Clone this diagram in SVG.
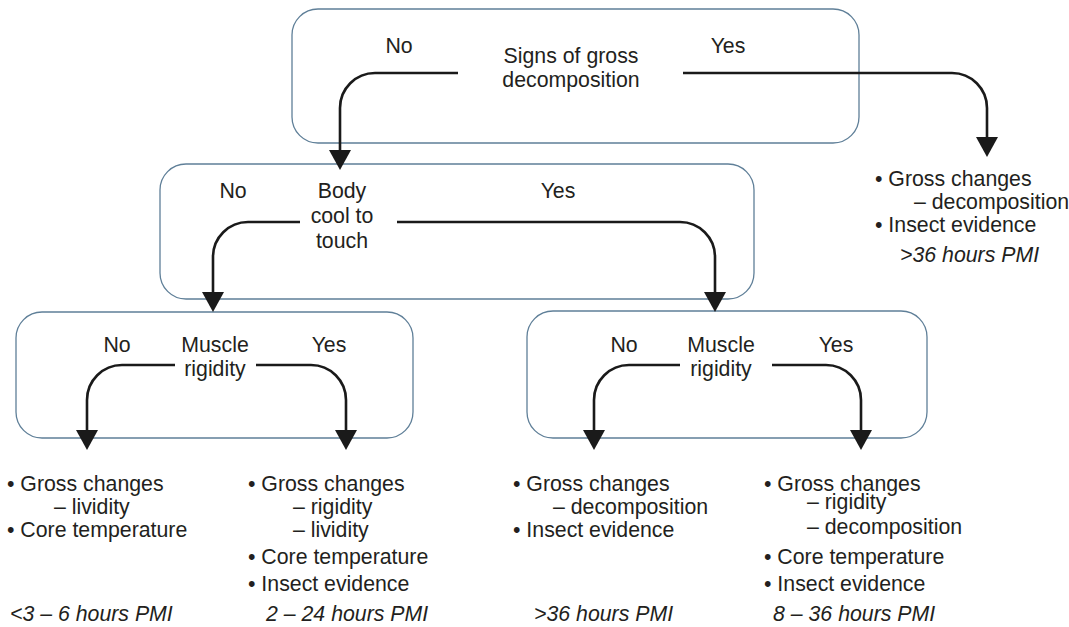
<svg xmlns="http://www.w3.org/2000/svg" width="1069" height="627" viewBox="0 0 1069 627">
<style>
.box{fill:#fff;stroke:#5f7f98;stroke-width:1.3}
.t{font-family:"Liberation Sans",Arial,sans-serif;font-size:21.3px;fill:#231f20}
.c{text-anchor:middle}
.i{font-style:italic}
.con{fill:none;stroke:#1a1a1a;stroke-width:2.6}
</style>
<defs>
<marker id="ah" markerUnits="userSpaceOnUse" markerWidth="20" markerHeight="22" viewBox="0 0 20 22" refX="0" refY="11" orient="auto">
<path d="M0,0 L20,11 L0,22 z" fill="#1a1a1a"/>
</marker>
</defs>
<rect width="1069" height="627" fill="#fff"/>
<g id="n1">
<rect class="box" x="292" y="9" width="567" height="134" rx="26"/>
<text class="t c" x="571" y="63">Signs of gross</text>
<text class="t c" x="571" y="87">decomposition</text>
<text class="t c" x="399" y="53">No</text>
<text class="t c" x="728" y="53">Yes</text>
</g>
<g id="n2">
<rect class="box" x="160" y="164" width="594" height="135" rx="26"/>
<text class="t c" x="342" y="198">Body</text>
<text class="t c" x="342" y="223">cool to</text>
<text class="t c" x="342" y="248">touch</text>
<text class="t c" x="233" y="198">No</text>
<text class="t c" x="558" y="198">Yes</text>
</g>
<g id="n3">
<rect class="box" x="16" y="312" width="397" height="126" rx="26"/>
<text class="t c" x="215" y="352">Muscle</text>
<text class="t c" x="215" y="376">rigidity</text>
<text class="t c" x="117" y="352">No</text>
<text class="t c" x="329" y="352">Yes</text>
</g>
<g id="n4">
<rect class="box" x="527" y="311" width="400" height="127" rx="26"/>
<text class="t c" x="721" y="352">Muscle</text>
<text class="t c" x="721" y="376">rigidity</text>
<text class="t c" x="624" y="352">No</text>
<text class="t c" x="836" y="352">Yes</text>
</g>
<g id="connectors">
<path class="con" d="M458,73 H375 A35,35 0 0 0 340,108 V150" marker-end="url(#ah)"/>
<path class="con" d="M683,73 H952 A35,35 0 0 1 987,108 V137" marker-end="url(#ah)"/>
<path class="con" d="M300,222 H248 A35,35 0 0 0 213,257 V292" marker-end="url(#ah)"/>
<path class="con" d="M397,222 H680 A35,35 0 0 1 715,257 V292" marker-end="url(#ah)"/>
<path class="con" d="M175,365 H122 A35,35 0 0 0 87,400 V430" marker-end="url(#ah)"/>
<path class="con" d="M256,365 H311 A35,35 0 0 1 346,400 V430" marker-end="url(#ah)"/>
<path class="con" d="M680,365 H629 A35,35 0 0 0 594,400 V430" marker-end="url(#ah)"/>
<path class="con" d="M772,365 H826 A35,35 0 0 1 861,400 V430" marker-end="url(#ah)"/>
</g>
<g id="out0">
<text class="t" x="875" y="186">• Gross changes</text>
<text class="t" x="914" y="209">– decomposition</text>
<text class="t" x="875" y="232">• Insect evidence</text>
<text class="t i" x="900" y="262">&gt;36 hours PMI</text>
</g>
<g id="out1">
<text class="t" x="7" y="491">• Gross changes</text>
<text class="t" x="54" y="514">– lividity</text>
<text class="t" x="7" y="537">• Core temperature</text>
<text class="t i" x="10" y="621">&lt;3 – 6 hours PMI</text>
</g>
<g id="out2">
<text class="t" x="248" y="491">• Gross changes</text>
<text class="t" x="293" y="514">– rigidity</text>
<text class="t" x="293" y="537">– lividity</text>
<text class="t" x="248" y="564">• Core temperature</text>
<text class="t" x="248" y="591">• Insect evidence</text>
<text class="t i" x="266" y="621">2 – 24 hours PMI</text>
</g>
<g id="out3">
<text class="t" x="513" y="491">• Gross changes</text>
<text class="t" x="553" y="514">– decomposition</text>
<text class="t" x="513" y="537">• Insect evidence</text>
<text class="t i" x="534" y="621">&gt;36 hours PMI</text>
</g>
<g id="out4">
<text class="t" x="764" y="491">• Gross changes</text>
<text class="t" x="807" y="509">– rigidity</text>
<text class="t" x="807" y="534">– decomposition</text>
<text class="t" x="764" y="564">• Core temperature</text>
<text class="t" x="764" y="591">• Insect evidence</text>
<text class="t i" x="773" y="621">8 – 36 hours PMI</text>
</g>
</svg>
